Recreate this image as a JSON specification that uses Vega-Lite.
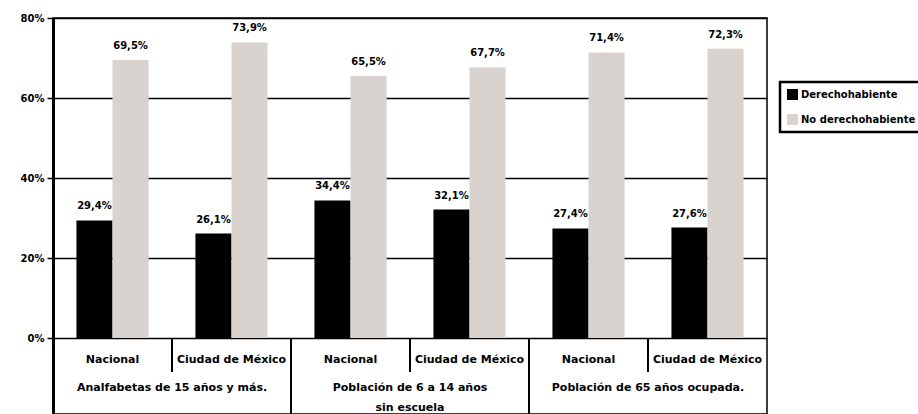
{
  "$schema": "https://vega.github.io/schema/vega-lite/v6.json",
  "width": 714,
  "height": 396,
  "autosize": {"type": "none"},
  "padding": {"left": 53, "top": 18, "right": 151, "bottom": 0},
  "config": {
    "view": {"stroke": "black", "strokeWidth": 1.5},
    "font": "DejaVu Sans",
    "legend": {"strokeWidth": 2.5},
    "locale": {"number": {"decimal": ",", "thousands": ".", "grouping": [3], "currency": ["", " €"]}}
  },
  "datasets": {
    "bars": [
      {"key": "g1a", "series": "Derechohabiente", "value": 0.294},
      {"key": "g1a", "series": "No derechohabiente", "value": 0.695},
      {"key": "g1b", "series": "Derechohabiente", "value": 0.261},
      {"key": "g1b", "series": "No derechohabiente", "value": 0.739},
      {"key": "g2a", "series": "Derechohabiente", "value": 0.344},
      {"key": "g2a", "series": "No derechohabiente", "value": 0.655},
      {"key": "g2b", "series": "Derechohabiente", "value": 0.321},
      {"key": "g2b", "series": "No derechohabiente", "value": 0.677},
      {"key": "g3a", "series": "Derechohabiente", "value": 0.274},
      {"key": "g3a", "series": "No derechohabiente", "value": 0.714},
      {"key": "g3b", "series": "Derechohabiente", "value": 0.276},
      {"key": "g3b", "series": "No derechohabiente", "value": 0.723}
    ],
    "sublabels": [
      {"key": "g1a", "label": "Nacional"},
      {"key": "g1b", "label": "Ciudad de México"},
      {"key": "g2a", "label": "Nacional"},
      {"key": "g2b", "label": "Ciudad de México"},
      {"key": "g3a", "label": "Nacional"},
      {"key": "g3b", "label": "Ciudad de México"}
    ],
    "groups": [
      {"key": "g1b", "label": "Analfabetas de 15 años y más."},
      {"key": "g2b", "label": "Población de 6 a 14 años\nsin escuela"},
      {"key": "g3b", "label": "Población de 65 años ocupada."}
    ],
    "seps": [
      {"key": "g1b", "y": 0, "y2": -0.085},
      {"key": "g2a", "y": 0, "y2": -0.19},
      {"key": "g2b", "y": 0, "y2": -0.085},
      {"key": "g3a", "y": 0, "y2": -0.19},
      {"key": "g3b", "y": 0, "y2": -0.085}
    ]
  },
  "layer": [
    {
      "data": {"name": "bars"},
      "mark": {"type": "bar", "stroke": null},
      "encoding": {
        "x": {"field": "key", "type": "nominal", "axis": null,
              "scale": {"type": "band", "domain": ["g1a", "g1b", "g2a", "g2b", "g3a", "g3b"], "paddingInner": 0, "paddingOuter": 0}},
        "xOffset": {"field": "series", "type": "nominal", "scale": {"paddingInner": 0, "paddingOuter": 0.65}},
        "y": {"field": "value", "type": "quantitative",
              "scale": {"domain": [-0.19, 0.8], "nice": false, "zero": false},
              "axis": {"values": [0, 0.2, 0.4, 0.6, 0.8], "format": ".0%", "title": null,
                       "grid": true, "gridColor": "black", "gridWidth": 1.5, "gridOpacity": 1,
                       "domainColor": "black", "domainWidth": 3, "tickColor": "black", "tickSize": 6, "tickWidth": 1.5,
                       "labelFontSize": 10, "labelFontWeight": "bold", "labelColor": "black", "labelPadding": 3}},
        "y2": {"datum": 0},
        "color": {"field": "series", "type": "nominal",
                  "scale": {"domain": ["Derechohabiente", "No derechohabiente"], "range": ["#000000", "#d9d3d0"]},
                  "legend": {"orient": "none", "legendX": 727, "legendY": 64, "title": null,
                             "symbolType": "square", "symbolSize": 121, "symbolStrokeWidth": 0, "symbolOpacity": 1,
                             "labelFontSize": 10, "labelFontWeight": "bold", "labelColor": "black", "labelOffset": 3,
                             "rowPadding": 14, "padding": 7, "strokeColor": "black", "fillColor": "white"}}
      }
    },
    {
      "data": {"name": "bars"},
      "mark": {"type": "text", "baseline": "bottom", "dy": -9, "fontSize": 10, "fontWeight": "bold", "color": "black"},
      "encoding": {
        "x": {"field": "key", "type": "nominal"},
        "xOffset": {"field": "series", "type": "nominal"},
        "y": {"field": "value", "type": "quantitative"},
        "text": {"field": "value", "type": "quantitative", "format": ".1%"}
      }
    },
    {
      "data": {"name": "seps"},
      "mark": {"type": "rule", "color": "black", "strokeWidth": 2},
      "encoding": {
        "x": {"field": "key", "type": "nominal", "bandPosition": 0},
        "y": {"field": "y", "type": "quantitative"},
        "y2": {"field": "y2"}
      }
    },
    {
      "data": {"name": "sublabels"},
      "mark": {"type": "text", "baseline": "middle", "fontSize": 11, "fontWeight": "bold", "color": "black"},
      "encoding": {
        "x": {"field": "key", "type": "nominal"},
        "y": {"datum": -0.055, "type": "quantitative"},
        "text": {"field": "label"}
      }
    },
    {
      "data": {"name": "groups"},
      "mark": {"type": "text", "baseline": "top", "fontSize": 11, "fontWeight": "bold", "color": "black", "lineBreak": "\n", "lineHeight": 20},
      "encoding": {
        "x": {"field": "key", "type": "nominal", "bandPosition": 0},
        "y": {"datum": -0.11, "type": "quantitative"},
        "text": {"field": "label"}
      }
    }
  ]
}
